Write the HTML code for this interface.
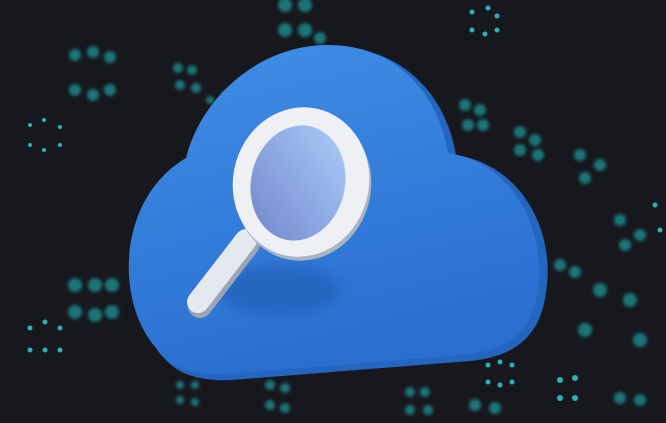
<!DOCTYPE html>
<html><head><style>html,body{margin:0;padding:0;background:#17181d;}svg{display:block}</style></head><body>
<svg width="666" height="423" viewBox="0 0 666 423" xmlns="http://www.w3.org/2000/svg">
<defs>
<linearGradient id="cl" x1="0" y1="0" x2="0.3" y2="1"><stop offset="0" stop-color="#3f8ee6"/><stop offset="1" stop-color="#2a6fd0"/></linearGradient>
<linearGradient id="gl" x1="0.8" y1="0.1" x2="0.2" y2="0.9"><stop offset="0" stop-color="#a4c4f4"/><stop offset="1" stop-color="#7890d2"/></linearGradient>
<filter id="b"><feGaussianBlur stdDeviation="1.6"/></filter>
<filter id="s"><feGaussianBlur stdDeviation="6"/></filter>
</defs>
<rect width="666" height="423" fill="#17181d"/>
<g fill="#1e8c8f" filter="url(#b)" opacity="0.8">
<circle cx="75" cy="55" r="6"/><circle cx="93" cy="52" r="6"/><circle cx="110" cy="57" r="6"/><circle cx="75" cy="90" r="6"/><circle cx="93" cy="95" r="6"/><circle cx="110" cy="90" r="6"/>
<circle cx="285" cy="5" r="7"/><circle cx="305" cy="5" r="7"/><circle cx="285" cy="30" r="7"/><circle cx="305" cy="30" r="7"/><circle cx="320" cy="38" r="6"/>
<circle cx="178" cy="68" r="5"/><circle cx="192" cy="70" r="5"/><circle cx="180" cy="85" r="5"/><circle cx="196" cy="88" r="5"/><circle cx="210" cy="100" r="4"/><circle cx="225" cy="95" r="4"/>
<circle cx="465" cy="105" r="6"/><circle cx="480" cy="110" r="6"/><circle cx="468" cy="125" r="6"/><circle cx="483" cy="125" r="6"/>
<circle cx="520" cy="132" r="6"/><circle cx="535" cy="140" r="6"/><circle cx="520" cy="150" r="6"/><circle cx="538" cy="155" r="6"/>
<circle cx="580" cy="155" r="6"/><circle cx="600" cy="165" r="6"/><circle cx="585" cy="178" r="6"/>
<circle cx="620" cy="220" r="6"/><circle cx="640" cy="235" r="6"/><circle cx="625" cy="245" r="6"/>
<circle cx="75" cy="285" r="7"/><circle cx="95" cy="285" r="7"/><circle cx="112" cy="285" r="7"/><circle cx="75" cy="312" r="7"/><circle cx="95" cy="315" r="7"/><circle cx="112" cy="312" r="7"/>
<circle cx="560" cy="265" r="6"/><circle cx="575" cy="272" r="6"/><circle cx="600" cy="290" r="7"/><circle cx="630" cy="300" r="7"/><circle cx="585" cy="330" r="7"/><circle cx="640" cy="340" r="7"/>
<circle cx="270" cy="385" r="5"/><circle cx="285" cy="388" r="5"/><circle cx="270" cy="405" r="5"/><circle cx="285" cy="408" r="5"/>
<circle cx="410" cy="392" r="5"/><circle cx="425" cy="392" r="5"/><circle cx="410" cy="410" r="5"/><circle cx="428" cy="410" r="5"/>
<circle cx="475" cy="405" r="6"/><circle cx="495" cy="408" r="6"/><circle cx="620" cy="398" r="6"/><circle cx="640" cy="400" r="6"/>
<circle cx="180" cy="385" r="4"/><circle cx="195" cy="385" r="4"/><circle cx="180" cy="400" r="4"/><circle cx="195" cy="402" r="4"/>
</g>
<g fill="#2ab3b5">
<circle cx="30" cy="125" r="2"/><circle cx="44" cy="120" r="2"/><circle cx="60" cy="127" r="2"/><circle cx="30" cy="145" r="2"/><circle cx="44" cy="150" r="2"/><circle cx="60" cy="145" r="2"/>
<circle cx="30" cy="328" r="2.5"/><circle cx="45" cy="322" r="2.5"/><circle cx="60" cy="328" r="2.5"/><circle cx="30" cy="350" r="2.5"/><circle cx="45" cy="350" r="2.5"/><circle cx="60" cy="350" r="2.5"/>
<circle cx="472" cy="12" r="2.5"/><circle cx="488" cy="8" r="2.5"/><circle cx="497" cy="16" r="2.5"/><circle cx="472" cy="30" r="2.5"/><circle cx="485" cy="34" r="2.5"/><circle cx="497" cy="30" r="2.5"/>
<circle cx="488" cy="365" r="2.5"/><circle cx="500" cy="362" r="2.5"/><circle cx="512" cy="365" r="2.5"/><circle cx="488" cy="382" r="2.5"/><circle cx="500" cy="385" r="2.5"/><circle cx="512" cy="382" r="2.5"/>
<circle cx="560" cy="380" r="3"/><circle cx="575" cy="378" r="3"/><circle cx="560" cy="398" r="3"/><circle cx="575" cy="398" r="3"/>
<circle cx="655" cy="205" r="2.5"/><circle cx="660" cy="230" r="2.5"/>
</g>
<path d="M160 352 C118 305 122 200 190 160 C205 100 262 48 332 47 C402 46 446 95 456 155 C522 165 556 232 546 292 C541 332 520 356 470 361 L232 380 C196 382 172 372 160 352 Z" fill="#2465bf"/>
<path d="M156 348 C114 300 118 198 186 158 C201 98 258 46 326 45 C396 44 438 93 448 153 C514 163 546 230 538 290 C533 328 512 350 462 355 L228 374 C192 376 168 368 156 348 Z" fill="url(#cl)"/>
<ellipse cx="280" cy="290" rx="60" ry="25" fill="#1d56aa" opacity="0.5" filter="url(#s)"/>
<line x1="248" y1="244" x2="200" y2="306" stroke="#9aa6b8" stroke-width="24" stroke-linecap="round"/>
<line x1="246" y1="240" x2="198" y2="302" stroke="#e4e8ef" stroke-width="22" stroke-linecap="round"/>
<ellipse cx="303" cy="186" rx="68" ry="75" transform="rotate(12 303 186)" fill="#a9b3c3"/>
<ellipse cx="301" cy="182" rx="68" ry="75" transform="rotate(12 301 182)" fill="#eef0f4"/>
<ellipse cx="298" cy="183" rx="47" ry="58" transform="rotate(12 298 183)" fill="url(#gl)"/>
</svg>
</body></html>
